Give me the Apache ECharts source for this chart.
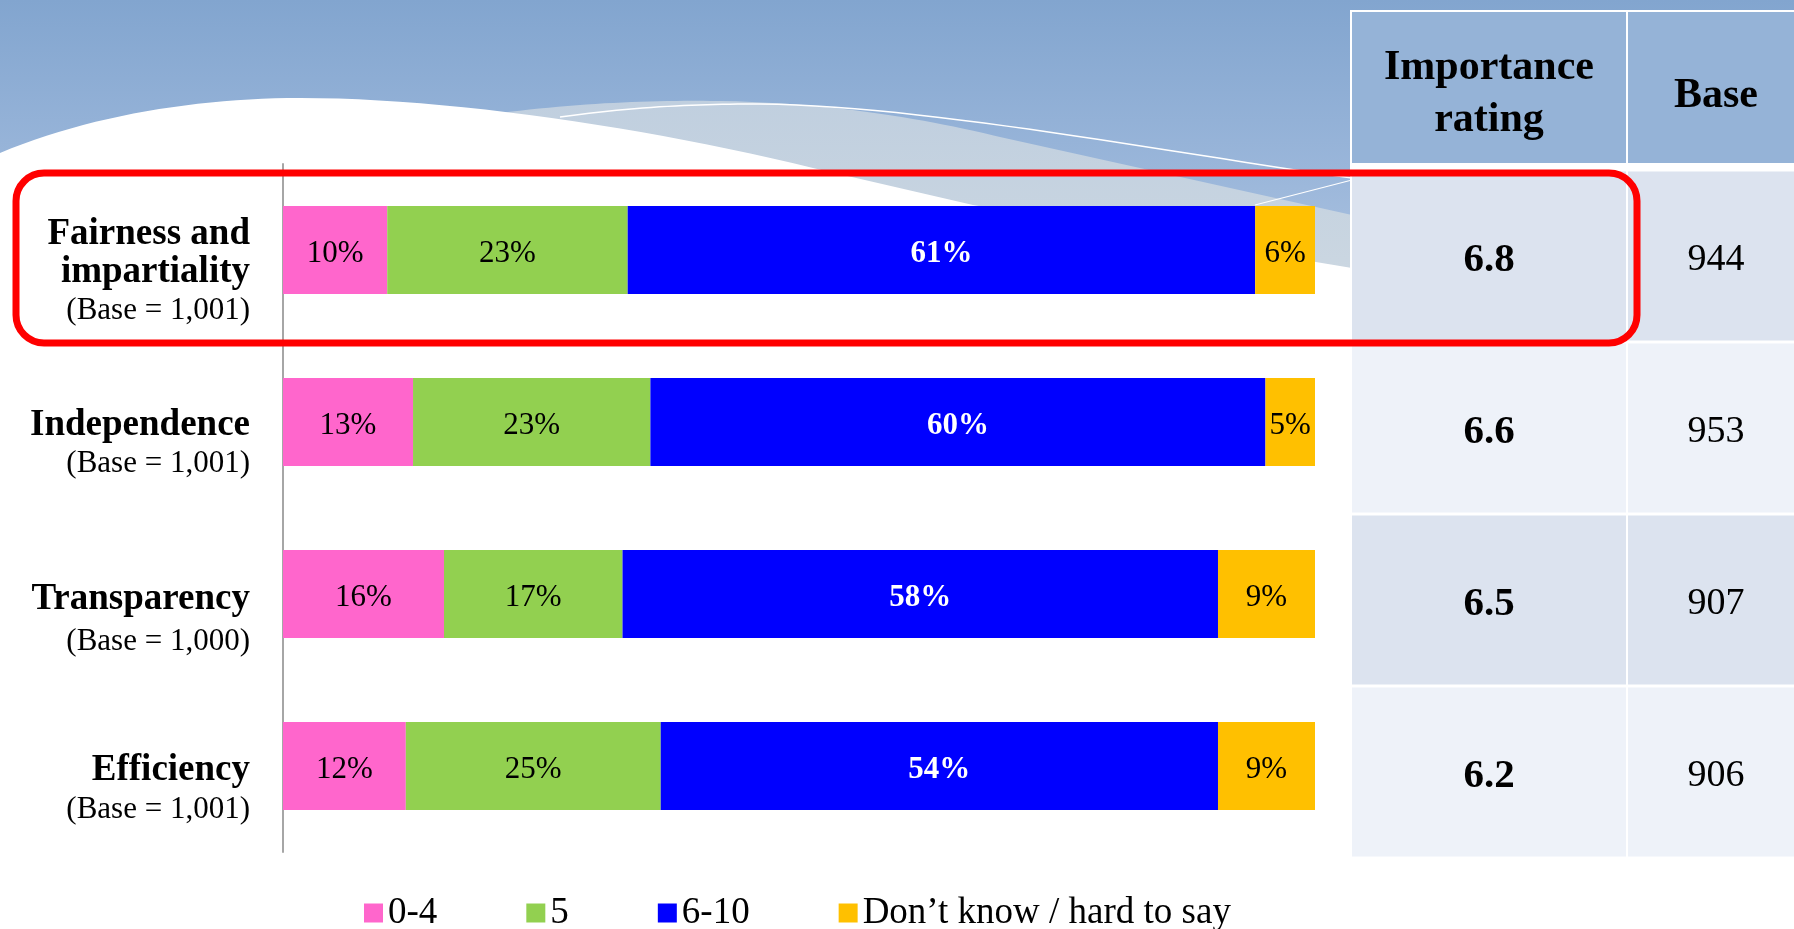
<!DOCTYPE html>
<html>
<head>
<meta charset="utf-8">
<style>
html,body{margin:0;padding:0;background:#fff;}
#chart{width:1794px;height:929px;}
</style>
<script src="https://cdn.jsdelivr.net/npm/echarts@6/dist/echarts.min.js"></script>
</head>
<body>
<div id="chart"></div>
<script>
// ---- data ----
const categories = ['Fairness and\nimpartiality', 'Independence', 'Transparency', 'Efficiency'];
const categoryBases = ['(Base = 1,001)', '(Base = 1,001)', '(Base = 1,000)', '(Base = 1,001)'];
const seriesNames = ['0-4', '5', '6-10', 'Don\u2019t know / hard to say'];
const score0to4 = [10.1, 12.6, 15.6, 11.9];
const score5 = [23.3, 23.0, 17.3, 24.7];
const score6to10 = [60.8, 59.6, 57.7, 54.0];
const dontKnow = [5.8, 4.8, 9.4, 9.4];
const importanceRating = [6.8, 6.6, 6.5, 6.2];
const baseCounts = [944, 953, 907, 906];
const tableHeaders = ['Importance\nrating', 'Base'];

// ---- styles ----
const SERIF = '"Liberation Serif", "Times New Roman", serif';
const colors = ['#ff66cc', '#92d050', '#0000ff', '#ffc000'];
const lineStyleKeys = [['b', 'b', 's'], ['b', 's'], ['bT', 'sT'], ['bE', 'sE']];

// sample a chain of cubic bezier segments into points (decoration only)
function bez(p0, segs) {
  const pts = [p0.slice()];
  let cur = p0;
  segs.forEach(s => {
    if (s.length === 1) { pts.push(s[0].slice()); cur = s[0]; return; }
    const [c1, c2, e] = s;
    for (let i = 1; i <= 24; i++) {
      const t = i / 24, u = 1 - t;
      pts.push([
        u*u*u*cur[0] + 3*u*u*t*c1[0] + 3*u*t*t*c2[0] + t*t*t*e[0],
        u*u*u*cur[1] + 3*u*u*t*c1[1] + 3*u*t*t*c2[1] + t*t*t*e[1]
      ]);
    }
    cur = e;
  });
  return pts;
}

const chart = echarts.init(document.getElementById('chart'));

function barLabel(white) {
  return {
    show: true, position: 'inside',
    offset: [0, 4],
    formatter: p => Math.round(p.value) + '%',
    fontFamily: SERIF,
    fontSize: 31,
    fontWeight: white ? 'bold' : 'normal',
    color: white ? '#ffffff' : '#000000'
  };
}

const valueArrays = [score0to4, score5, score6to10, dontKnow];
const barSeries = seriesNames.map((name, i) => ({
  name: name, type: 'bar', stack: 'total',
  xAxisIndex: 0, yAxisIndex: 0,
  barWidth: 88,
  itemStyle: { color: colors[i] },
  label: barLabel(i === 2),
  emphasis: { disabled: true },
  data: valueArrays[i]
}));

const COL1_X = 1352, COL1_W = 274, COL2_X = 1628, COL2_W = 176;
const tableSeries = {
  type: 'custom',
  xAxisIndex: 1, yAxisIndex: 1,
  silent: true,
  z: 3,
  encode: { x: 0, y: 1 },
  data: categories.map((c, i) => [0, i, importanceRating[i], baseCounts[i]]),
  renderItem: function (params, api) {
    const idx = api.value(1);
    const yc = api.coord([0, idx])[1];
    const h = api.size([0, 1])[1];
    const fill = idx % 2 === 0 ? '#dce3ef' : '#eef2f9';
    const top = yc - h / 2 + 1.5;
    return {
      type: 'group',
      children: [
        { type: 'rect', shape: { x: COL1_X, y: top, width: COL1_W, height: h - 3 }, style: { fill: fill } },
        { type: 'rect', shape: { x: COL2_X, y: top, width: COL2_W, height: h - 3 }, style: { fill: fill } },
        { type: 'text', style: { text: api.value(2).toFixed(1), x: COL1_X + 137, y: yc + 4, align: 'center', verticalAlign: 'middle',
            font: 'bold 41px ' + SERIF, fill: '#000' } },
        { type: 'text', style: { text: String(api.value(3)), x: 1716, y: yc + 4, align: 'center', verticalAlign: 'middle',
            font: '38px ' + SERIF, fill: '#000' } }
      ]
    };
  }
};

const greyBand = bez([500, 113], [
  [[580, 103], [650, 100], [720, 101]],
  [[850, 103], [950, 125], [1000, 137]],
  [[1352, 215]], [[1352, 420]], [[500, 420]]
]);
const whiteHill = bez([0, 153], [
  [[90, 115], [200, 98], [300, 98]],
  [[450, 98], [650, 128], [813, 168]],
  [[973, 205]], [[1352, 268]], [[1352, 929]], [[0, 929]]
]);
const thinLine = bez([560, 117], [
  [[640, 106], [700, 104], [760, 104]],
  [[900, 105], [1100, 140], [1295, 170]],
  [[1352, 178]]
]);

const option = {
  animation: false,
  backgroundColor: '#ffffff',
  legend: {
    data: seriesNames,
    left: 359, top: 889,
    itemWidth: 19, itemHeight: 19, itemGap: 89,
    icon: 'rect',
    selectedMode: false,
    textStyle: { fontFamily: SERIF, fontSize: 37, lineHeight: 38, color: '#000' }
  },
  grid: [
    { left: 283, right: 479, top: 164, bottom: 77, containLabel: false },
    { left: 1352, right: 0, top: 170, bottom: 71, containLabel: false }
  ],
  xAxis: [
    { type: 'value', gridIndex: 0, min: 0, max: 100, show: false },
    { type: 'value', gridIndex: 1, min: 0, max: 1, show: false }
  ],
  yAxis: [
    {
      type: 'category', gridIndex: 0, inverse: true, data: categories,
      axisTick: { show: false },
      splitLine: { show: false },
      axisLine: { show: true, lineStyle: { color: '#a6a6a6', width: 2 } },
      axisLabel: {
        margin: 33,
        padding: [45, 0, 0, 0],
        formatter: function (value, idx) {
          const keys = lineStyleKeys[idx];
          const lines = value.split('\n');
          const out = lines.map((l, k) => '{' + keys[k] + '|' + l + '}');
          out.push('{' + keys[lines.length] + '|' + categoryBases[idx] + '}');
          return out.join('\n');
        },
        rich: {
          b: { fontFamily: SERIF, fontWeight: 'bold', fontSize: 37, lineHeight: 38, color: '#000' },
          s: { fontFamily: SERIF, fontSize: 31, lineHeight: 38, color: '#000' },
          bT: { fontFamily: SERIF, fontWeight: 'bold', fontSize: 37, lineHeight: 50, color: '#000' },
          sT: { fontFamily: SERIF, fontSize: 31, lineHeight: 35, color: '#000' },
          bE: { fontFamily: SERIF, fontWeight: 'bold', fontSize: 37, lineHeight: 42, color: '#000' },
          sE: { fontFamily: SERIF, fontSize: 31, lineHeight: 37, color: '#000' }
        }
      }
    },
    {
      type: 'category', gridIndex: 1, inverse: true, data: categories, show: false
    }
  ],
  graphic: [
    { type: 'rect', z: -10, silent: true, shape: { x: 0, y: 0, width: 1794, height: 340 },
      style: { fill: new echarts.graphic.LinearGradient(0, 0, 0, 1, [
        { offset: 0, color: '#82a5cf' }, { offset: 0.5, color: '#9ab6da' }, { offset: 1, color: '#b6cae4' }]) } },
    { type: 'polygon', z: -9, silent: true, shape: { points: greyBand },
      style: { fill: new echarts.graphic.LinearGradient(0, 0, 0, 1, [
        { offset: 0, color: '#c0cfdf' }, { offset: 0.5, color: '#cad6e1' }, { offset: 1, color: '#dde3e8' }]) } },
    { type: 'polygon', z: -8, silent: true, shape: { points: whiteHill }, style: { fill: '#ffffff' } },
    { type: 'polyline', z: -7, silent: true, shape: { points: thinLine }, style: { stroke: '#ffffff', lineWidth: 1.5, fill: null } },
    { type: 'line', z: -7, silent: true, shape: { x1: 1255, y1: 205, x2: 1352, y2: 180 }, style: { stroke: '#ffffff', lineWidth: 1.2 } },
    { type: 'rect', z: -6, silent: true, shape: { x: 1350, y: 10, width: 444, height: 850 }, style: { fill: '#ffffff' } },
    { type: 'rect', z: -5, silent: true, shape: { x: COL1_X, y: 12, width: COL1_W, height: 151 }, style: { fill: '#95b3d7' } },
    { type: 'rect', z: -5, silent: true, shape: { x: COL2_X, y: 12, width: COL2_W, height: 151 }, style: { fill: '#95b3d7' } },
    { type: 'text', z: -4, silent: true,
      style: { text: tableHeaders[0], x: COL1_X + 137, y: 94, align: 'center', verticalAlign: 'middle', lineHeight: 52,
        font: 'bold 42px ' + SERIF, fill: '#000' } },
    { type: 'text', z: -4, silent: true,
      style: { text: tableHeaders[1], x: 1716, y: 96, align: 'center', verticalAlign: 'middle',
        font: 'bold 42px ' + SERIF, fill: '#000' } },
    { type: 'rect', z: 100, silent: true, shape: { x: 16, y: 173, width: 1621, height: 170, r: 28 },
      style: { fill: null, stroke: '#ff0000', lineWidth: 7 } }
  ],
  series: barSeries.concat([tableSeries])
};

chart.setOption(option);
</script>
</body>
</html>
